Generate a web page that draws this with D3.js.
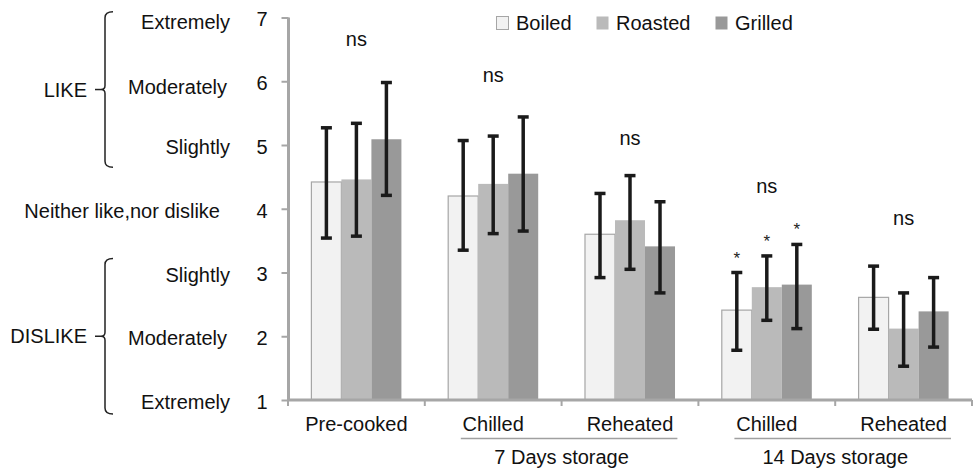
<!DOCTYPE html>
<html>
<head>
<meta charset="utf-8">
<script src="https://cdn.jsdelivr.net/npm/d3@7"></script>
<style>
  html, body { margin: 0; padding: 0; background: #fff; }
  svg { display: block; font-family: "Liberation Sans", Arial, sans-serif; }
</style>
</head>
<body>
<svg id="chart" width="975" height="471"></svg>
<script>
// ---- data ----
const categories = ["Pre-cooked", "Chilled", "Reheated", "Chilled", "Reheated"];
const series = ["Boiled", "Roasted", "Grilled"];
const boiled  = [4.42, 4.20, 3.60, 2.41, 2.61];
const roasted = [4.46, 4.39, 3.82, 2.77, 2.12];
const grilled = [5.09, 4.55, 3.41, 2.81, 2.39];
const boiledErrHi  = [5.27, 5.07, 4.24, 3.00, 3.10];
const boiledErrLo  = [3.54, 3.35, 2.92, 1.78, 2.11];
const roastedErrHi = [5.34, 5.14, 4.52, 3.26, 2.68];
const roastedErrLo = [3.57, 3.61, 3.05, 2.25, 1.53];
const grilledErrHi = [5.98, 5.44, 4.11, 3.44, 2.92];
const grilledErrLo = [4.21, 3.65, 2.68, 2.12, 1.83];
const sigLabels = ["ns", "ns", "ns", "ns", "ns"];
const sigLevel  = [6.66, 6.09, 5.10, 4.34, 3.84];
const starGroups = [3];
const yTicks = [1, 2, 3, 4, 5, 6, 7];
const ratingLabels = ["Extremely", "Moderately", "Slightly", "Neither like,nor dislike", "Slightly", "Moderately", "Extremely"];
const ratingValues = [1, 2, 3, 4, 5, 6, 7];
const storageGroups = ["7 Days storage", "14 Days storage"];
const storageSpans = [[1, 2], [3, 4]];
const colors = ["#f2f2f2", "#bababa", "#999999"];

// ---- layout ----
const svg = d3.select("#chart");
const FS = 20;
const x = d3.scaleBand().domain(d3.range(categories.length)).range([288, 972]).paddingInner(0).paddingOuter(0);
const bw = x.bandwidth();
const xs = d3.scaleBand().domain(series).range([bw * 0.171, bw * 0.829]).padding(0);
const y = d3.scaleLinear().domain([1, 7]).range([400, 17.5]);

const values = [boiled, roasted, grilled];
const errHi = [boiledErrHi, roastedErrHi, grilledErrHi];
const errLo = [boiledErrLo, roastedErrLo, grilledErrLo];

const bars = [];
categories.forEach((c, i) => series.forEach((s, j) => bars.push({i, j, s, v: values[j][i], hi: errHi[j][i], lo: errLo[j][i]})));

// bars
svg.append("g").selectAll("rect").data(bars).join("rect")
  .attr("x", d => x(d.i) + xs(d.s))
  .attr("width", xs.bandwidth())
  .attr("y", d => y(d.v))
  .attr("height", d => y(1) - y(d.v))
  .attr("fill", d => colors[d.j])
  .attr("stroke", d => d.j === 0 ? "#a6a6a6" : "none")
  .attr("stroke-width", 1.2);

// axes
const axisColor = "#a6a6a6";
const yAxis = svg.append("g").attr("transform", "translate(288.5,0)")
  .call(d3.axisLeft(y).tickValues(yTicks).tickSize(7).tickFormat(d3.format("d")));
yAxis.select(".domain").attr("stroke", axisColor).attr("stroke-width", 3).attr("d", `M0,${y(7)}V${y(1)}`);
yAxis.selectAll(".tick line").attr("stroke", axisColor).attr("stroke-width", 2);
yAxis.selectAll(".tick text").attr("x", -21).attr("dy", "0.42em")
  .attr("font-size", FS).attr("fill", "#111").attr("font-family", "Liberation Sans, Arial, sans-serif");

const xAxis = svg.append("g").attr("transform", `translate(0,${y(1)})`);
xAxis.append("line").attr("x1", 287).attr("x2", 972).attr("y1", 0).attr("y2", 0)
  .attr("stroke", axisColor).attr("stroke-width", 3);
xAxis.selectAll("line.tk").data(d3.range(categories.length + 1)).join("line").attr("class", "tk")
  .attr("x1", d => d < categories.length ? x(d) : x(d - 1) + bw)
  .attr("x2", d => d < categories.length ? x(d) : x(d - 1) + bw)
  .attr("y1", 0).attr("y2", 6).attr("stroke", axisColor).attr("stroke-width", 2);

// error bars
const eb = svg.append("g").attr("stroke", "#1a1a1a").attr("stroke-width", 3.5);
bars.forEach(d => {
  const cx = x(d.i) + xs(d.s) + xs.bandwidth() / 2;
  eb.append("line").attr("x1", cx).attr("x2", cx).attr("y1", y(d.hi)).attr("y2", y(d.lo));
  eb.append("line").attr("x1", cx - 5.5).attr("x2", cx + 5.5).attr("y1", y(d.hi)).attr("y2", y(d.hi));
  eb.append("line").attr("x1", cx - 5.5).attr("x2", cx + 5.5).attr("y1", y(d.lo)).attr("y2", y(d.lo));
});

// significance labels
svg.append("g").selectAll("text").data(sigLabels).join("text")
  .attr("x", (d, i) => x(i) + bw / 2)
  .attr("y", (d, i) => y(sigLevel[i]))
  .attr("dy", "0.32em").attr("text-anchor", "middle")
  .attr("font-size", FS).attr("fill", "#111").text(d => d);

// stars
svg.append("g").selectAll("text").data(bars.filter(d => starGroups.includes(d.i))).join("text")
  .attr("x", d => x(d.i) + xs(d.s) + xs.bandwidth() / 2)
  .attr("y", d => y(d.hi) - 9)
  .attr("text-anchor", "middle").attr("font-size", 17).attr("fill", "#222").text("*");

// legend
const legX = [496, 596, 715];
const leg = svg.append("g").selectAll("g").data(series).join("g")
  .attr("transform", (d, i) => `translate(${legX[i]},16)`);
leg.append("rect").attr("x", 0.5).attr("y", 0.5).attr("width", 12).attr("height", 13)
  .attr("fill", (d, i) => colors[i]).attr("stroke", (d, i) => i === 0 ? "#a6a6a6" : "none");
leg.append("text").attr("x", 20).attr("y", 7).attr("dy", "0.36em")
  .attr("font-size", FS).attr("fill", "#111").text(d => d);

// category labels
svg.append("g").selectAll("text").data(categories).join("text")
  .attr("x", (d, i) => x(i) + bw / 2)
  .attr("y", 430.5).attr("text-anchor", "middle")
  .attr("font-size", FS).attr("fill", "#111").text(d => d);

// storage groups
storageGroups.forEach((g, k) => {
  const [a, b] = storageSpans[k];
  const x1 = x(a) + 36, x2 = x(b) + bw - 21;
  svg.append("line").attr("x1", x1).attr("x2", x2).attr("y1", 438.5).attr("y2", 438.5)
    .attr("stroke", "#a0a0a0").attr("stroke-width", 1.5);
  svg.append("text").attr("x", (x(a) + x(b) + bw) / 2).attr("y", 463.5)
    .attr("text-anchor", "middle").attr("font-size", FS).attr("fill", "#111").text(g);
});

// rating labels
svg.append("g").selectAll("text").data(ratingLabels).join("text")
  .attr("x", (d, i) => ratingValues[i] === 4 ? 220 : (ratingValues[i] % 2 === 0 ? 227 : 230))
  .attr("y", (d, i) => y(ratingValues[i]) + (ratingValues[i] === 7 ? 3 : (ratingValues[i] === 6 ? 5 : 1)))
  .attr("dy", "0.4em").attr("text-anchor", "end")
  .attr("font-size", FS).attr("fill", "#111").text(d => d);

// brackets
function brace(top, bottom, label) {
  const bx = 105, hx = 113, mid = (top + bottom) / 2;
  const p = `M${hx},${top} Q${bx},${top} ${bx},${top + 6} L${bx},${mid - 4} Q${bx},${mid} ${bx - 4},${mid} Q${bx},${mid} ${bx},${mid + 4} L${bx},${bottom - 6} Q${bx},${bottom} ${hx},${bottom}`;
  svg.append("path").attr("d", p).attr("fill", "none").attr("stroke", "#222").attr("stroke-width", 1.5);
  svg.append("line").attr("x1", 95).attr("x2", bx - 4).attr("y1", mid).attr("y2", mid).attr("stroke", "#222").attr("stroke-width", 1.5);
  svg.append("text").attr("x", 87).attr("y", mid).attr("dy", "0.36em").attr("text-anchor", "end")
    .attr("font-size", FS).attr("fill", "#111").text(label);
}
brace(y(7.09), y(4.65), "LIKE");
brace(y(3.22), y(0.78), "DISLIKE");
</script>
</body>
</html>
